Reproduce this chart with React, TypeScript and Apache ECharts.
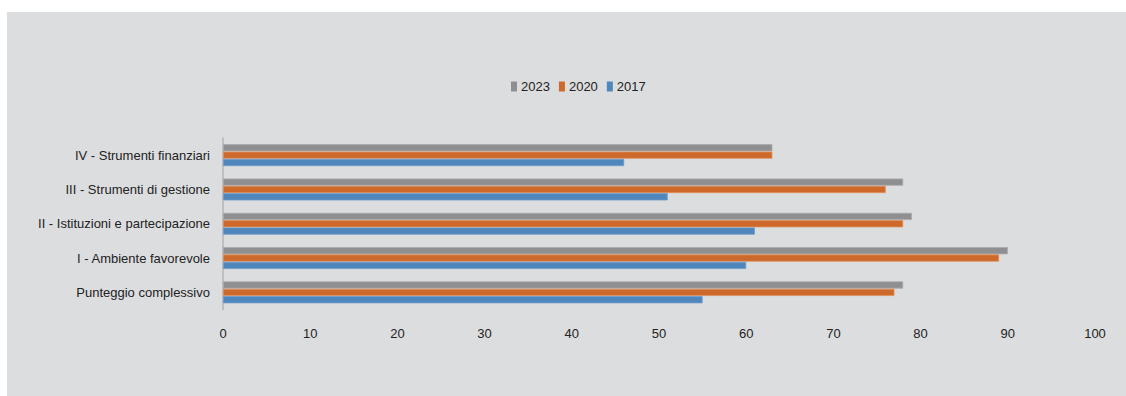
import React, { useEffect, useRef } from "react";
import * as echarts from "echarts";

const categories = [
  "Punteggio complessivo",
  "I - Ambiente favorevole",
  "II - Istituzioni e partecipazione",
  "III - Strumenti di gestione",
  "IV - Strumenti finanziari",
];
const years = ["2023", "2020", "2017"];
const values2023 = [78, 90, 79, 78, 63];
const values2020 = [77, 89, 78, 76, 63];
const values2017 = [55, 60, 61, 51, 46];
const xTicks = { min: 0, max: 100, interval: 10 };

const FONT = "'Liberation Sans', Arial, sans-serif";
const TEXT = "#222222";
const FS = 13;

export default function App() {
  const ref = useRef<HTMLDivElement>(null);
  useEffect(() => {
    if (!ref.current) return;
    const chart = echarts.init(ref.current, null, { renderer: "svg" });
    const mk = (name: string, data: number[], color: string, border: string) => ({
      name,
      type: "bar",
      data,
      barWidth: 7.2,
      barGap: "2%",
      itemStyle: { color, borderColor: border, borderWidth: 0.8 },
    });
    chart.setOption({
      animation: false,
      backgroundColor: "#dcdddf",
      textStyle: { fontFamily: FONT },
      graphic: [
        { type: "rect", shape: { x: 0, y: 0, width: 1126, height: 12 }, style: { fill: "#ffffff" }, silent: true },
        { type: "rect", shape: { x: 0, y: 0, width: 7, height: 396 }, style: { fill: "#ffffff" }, silent: true },
      ],
      legend: {
        data: years,
        left: 511,
        top: 80,
        padding: 0,
        icon: "rect",
        itemWidth: 6,
        itemHeight: 10,
        itemGap: 9,
        itemStyle: { borderWidth: 0 },
        textStyle: { fontFamily: FONT, fontSize: FS, color: TEXT, padding: [0, 0, 0, -1] },
      },
      grid: {
        left: 223,
        right: 31,
        top: 138,
        bottom: 86.5,
        containLabel: false,
        outerBoundsMode: "none",
      },
      xAxis: {
        type: "value",
        min: xTicks.min,
        max: xTicks.max,
        interval: xTicks.interval,
        axisLine: { show: false },
        axisTick: { show: false },
        splitLine: { show: false },
        axisLabel: { fontFamily: FONT, fontSize: FS, color: TEXT, margin: 17 },
      },
      yAxis: {
        type: "category",
        data: categories,
        axisLine: { show: true, lineStyle: { color: "#b4b4b6", width: 1.5 } },
        axisTick: { show: false },
        splitLine: { show: false },
        axisLabel: { fontFamily: FONT, fontSize: FS, color: TEXT, margin: 13 },
      },
      series: [
        mk("2023", values2023, "#8f8f91", "#a9a9ab"),
        mk("2020", values2020, "#cd6a2b", "#de8f5c"),
        mk("2017", values2017, "#4f86bc", "#6f9cc9"),
      ],
    });
    return () => chart.dispose();
  }, []);
  return (
    <div
      ref={ref}
      style={{ position: "fixed", left: 0, top: 0, width: 1126, height: 396 }}
    />
  );
}
